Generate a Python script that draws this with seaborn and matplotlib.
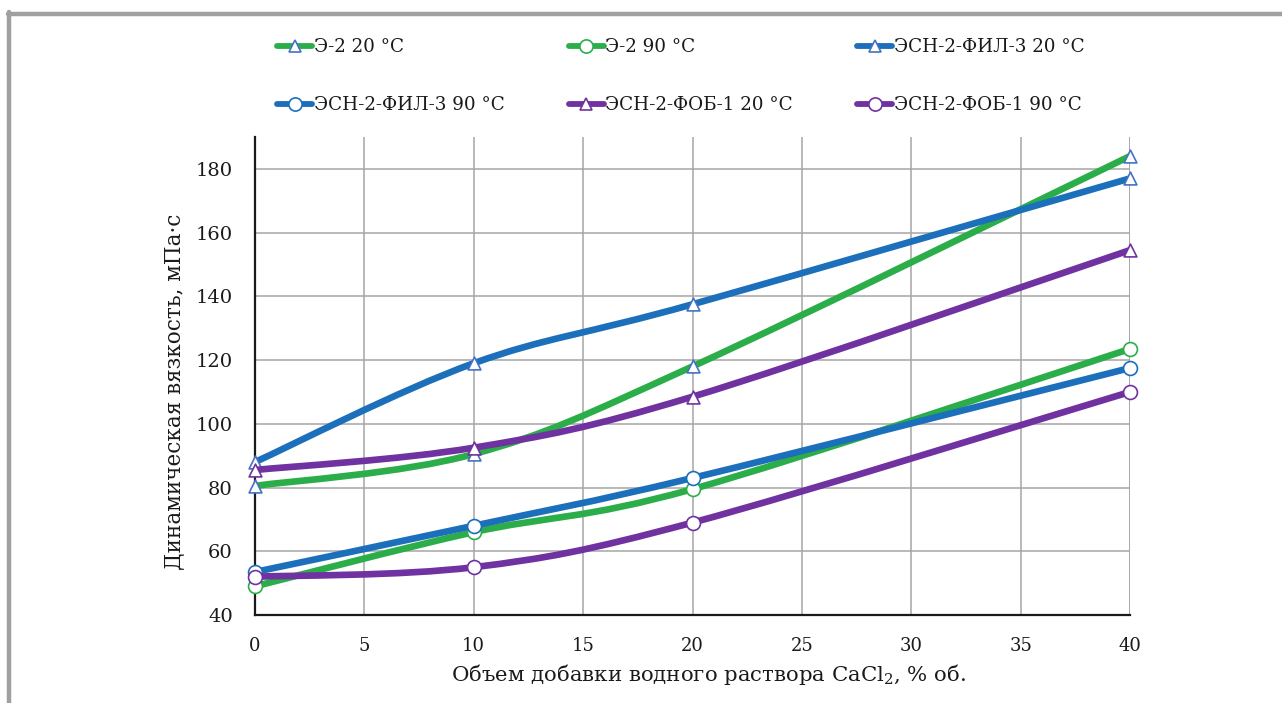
import numpy as np
import pandas as pd
import matplotlib
matplotlib.use("Agg")
import matplotlib.pyplot as plt
import seaborn as sns
from matplotlib.path import Path
from matplotlib.patches import PathPatch
from matplotlib.lines import Line2D

# ---------------- data ----------------
x_vals = [0, 10, 20, 40]
e2_20 = [80.5, 90.5, 118.0, 184.0]
e2_90 = [49.0, 66.0, 79.5, 123.5]
fil3_20 = [88.0, 119.0, 137.5, 177.0]
fil3_90 = [53.5, 68.0, 83.0, 117.5]
fob1_20 = [85.5, 92.5, 108.5, 154.5]
fob1_90 = [52.0, 55.0, 69.0, 110.0]
labels = ["Э-2 20 °C", "Э-2 90 °C", "ЭСН-2-ФИЛ-3 20 °C",
          "ЭСН-2-ФИЛ-3 90 °C", "ЭСН-2-ФОБ-1 20 °C", "ЭСН-2-ФОБ-1 90 °C"]
x_ticks = [0, 5, 10, 15, 20, 25, 30, 35, 40]
y_ticks = [40, 60, 80, 100, 120, 140, 160, 180]
x_label = "Объем добавки водного раствора CaCl$_2$, % об."
y_label = "Динамическая вязкость, мПа·с"

series_values = [e2_20, e2_90, fil3_20, fil3_90, fob1_20, fob1_90]

# ---------------- style ----------------
GREEN = "#2BAE4A"
BLUE = "#1C6FBA"
PURPLE = "#7032A0"
TRI_EDGE = "#4472C4"
styles = [
    dict(color=GREEN, marker="^", edge=TRI_EDGE),
    dict(color=GREEN, marker="o", edge=GREEN),
    dict(color=BLUE, marker="^", edge=TRI_EDGE),
    dict(color=BLUE, marker="o", edge=BLUE),
    dict(color=PURPLE, marker="^", edge=PURPLE),
    dict(color=PURPLE, marker="o", edge=PURPLE),
]

sns.set_theme(style="white")
plt.rcParams["font.family"] = ["DejaVu Serif"]
plt.rcParams["mathtext.fontset"] = "dejavuserif"
TEXT = "#1a1a1a"

W, H = 1282, 703
fig = plt.figure(figsize=(W / 100, H / 100), dpi=100)
fig.patch.set_facecolor("white")
ax = fig.add_axes([255 / W, 1 - 615 / H, (1130 - 255) / W, (615 - 137) / H])

ax.set_xlim(0, 40)
ax.set_ylim(40, 190)

LW = 4.8


def smooth_path(xs, ys):
    pts = np.column_stack([xs, ys]).astype(float)
    n = len(pts)
    verts = [pts[0]]
    codes = [Path.MOVETO]
    for i in range(n - 1):
        p0 = pts[max(i - 1, 0)]
        p1 = pts[i]
        p2 = pts[i + 1]
        p3 = pts[min(i + 2, n - 1)]
        c1 = p1 + (p2 - p0) / 6.0
        c2 = p2 - (p3 - p1) / 6.0
        verts += [c1, c2, p2]
        codes += [Path.CURVE4] * 3
    return Path(verts, codes)


for k, (vals, st, lab) in enumerate(zip(series_values, styles, labels)):
    df = pd.DataFrame({"x": x_vals, "y": vals})
    patch = PathPatch(smooth_path(df["x"], df["y"]), transform=ax.transData,
                      facecolor="none", edgecolor=st["color"], lw=LW,
                      capstyle="round", joinstyle="round", zorder=3 + 2 * k)
    ax.add_patch(patch)
    size = 85 if st["marker"] == "^" else 100
    sns.scatterplot(data=df, x="x", y="y", ax=ax, marker=st["marker"],
                    s=size, facecolor="white", edgecolor=st["edge"],
                    linewidth=1.2, zorder=4 + 2 * k, legend=False, clip_on=False)

# grid & spines
ax.set_xticks(x_ticks)
ax.set_yticks(y_ticks)
ax.grid(True, color="#A6A6A6", lw=1.1)
ax.set_axisbelow(True)
for side in ["top", "right"]:
    ax.spines[side].set_visible(False)
ax.axvline(40, color="#A6A6A6", lw=1.1, zorder=0.5)
for side in ["left", "bottom"]:
    ax.spines[side].set_color("#1a1a1a")
    ax.spines[side].set_linewidth(1.6)
    ax.spines[side].set_zorder(2.5)

ax.tick_params(axis="y", length=0, pad=16, labelsize=14, labelcolor=TEXT)
ax.tick_params(axis="x", length=0, pad=16, labelsize=13, labelcolor=TEXT)

ax.set_xlabel(x_label, fontsize=15.3, color=TEXT)
ax.set_ylabel(y_label, fontsize=15.5, color=TEXT)
ax.xaxis.set_label_coords(0.518, -0.098)
ax.yaxis.set_label_coords(-0.080, 0.466)

# legend (row-major in picture -> reorder for column-major fill)
handles = [Line2D([], [], color=st["color"], lw=4.2, marker=st["marker"],
                  markersize=9.5 if st["marker"] == "o" else 9,
                  markerfacecolor="white", markeredgecolor=st["edge"],
                  markeredgewidth=1.2) for st in styles]
order = [0, 3, 1, 4, 2, 5]
fs = 13.2
fpx = fs * 100 / 72
fig.legend([handles[i] for i in order], [labels[i] for i in order],
           ncol=3, loc="upper left", bbox_to_anchor=(277 / W, 1 - 38.5 / H),
           frameon=False, fontsize=fs, handlelength=35 / fpx,
           handletextpad=0.1, columnspacing=64 / fpx, labelspacing=40 / fpx,
           borderpad=0, borderaxespad=0, labelcolor=TEXT)

# partial gray frame (top and left)
fig.add_artist(Line2D([8 / W, 1.0], [1 - 13.5 / H, 1 - 13.5 / H],
                      transform=fig.transFigure, color="#A0A0A0", lw=3.2))
fig.add_artist(Line2D([8.5 / W, 8.5 / W], [1 - 12 / H, 0.0],
                      transform=fig.transFigure, color="#A0A0A0", lw=3.2))

fig.savefig("out.png", dpi=100, facecolor="white")
